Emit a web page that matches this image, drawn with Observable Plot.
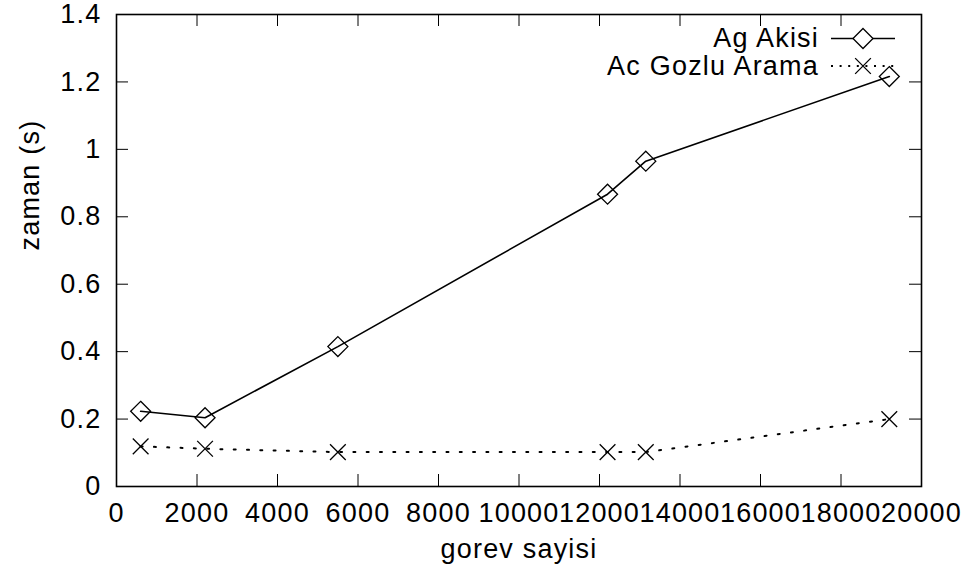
<!DOCTYPE html>
<html>
<head>
<meta charset="utf-8">
<script src="https://cdn.jsdelivr.net/npm/d3@7"></script>
<script src="https://cdn.jsdelivr.net/npm/@observablehq/plot@0.6"></script>
<style>
  html, body { margin: 0; padding: 0; background: #fff; }
</style>
</head>
<body>
<div id="chart"></div>
<script>
// Number of tasks (x) and run time in seconds (y) for both solvers
const taskCounts = [600, 2200, 5500, 12200, 13150, 19200];
const networkFlowTimes = [0.223, 0.204, 0.415, 0.867, 0.965, 1.216];
const bestFirstTimes = [0.119, 0.112, 0.102, 0.102, 0.102, 0.2];
const seriesNames = ["Ag Akisi", "Ac Gozlu Arama"];

const xTicks = [0, 2000, 4000, 6000, 8000, 10000, 12000, 14000, 16000, 18000, 20000];
const yTicks = [0, 0.2, 0.4, 0.6, 0.8, 1, 1.2, 1.4];
const xLabel = "gorev sayisi";
const yLabel = "zaman (s)";

const flowRows = taskCounts.map((x, i) => ({x, y: networkFlowTimes[i]}));
const bestRows = taskCounts.map((x, i) => ({x, y: bestFirstTimes[i]}));

const W = 975, H = 574;
const M = {top: 14, right: 54, bottom: 88, left: 116};
const frameW = W - M.left - M.right;
const frameH = H - M.top - M.bottom;
const tickLen = 12;

const diamondR = 9, timesR = 7.2;
const dotted = "2 11.3";

const series = [
  {name: seriesNames[0], symbol: d3.symbolDiamond2, r: diamondR, dash: null},
  {name: seriesNames[1], symbol: d3.symbolTimes, r: timesR, dash: "2 6.6"}
];

// Key in the upper-right corner of the frame: label, line sample and marker
function key(index, scales, values, dims) {
  const right = dims.width - dims.marginRight;
  const top = dims.marginTop;
  const g = d3.create("svg:g");
  series.forEach((s, i) => {
    const y = top + 24.5 + i * 27.5;
    g.append("text")
      .attr("x", right - 102)
      .attr("y", y)
      .attr("dy", "0.32em")
      .attr("text-anchor", "end")
      .attr("fill", "black")
      .text(s.name);
    g.append("line")
      .attr("x1", right - 90).attr("x2", right - 26)
      .attr("y1", y).attr("y2", y)
      .attr("stroke", "black")
      .attr("stroke-width", s.dash ? 2 : 1.4)
      .attr("stroke-dasharray", s.dash);
    g.append("path")
      .attr("transform", `translate(${right - 58},${y})`)
      .attr("d", d3.symbol(s.symbol, Math.PI * s.r * s.r)())
      .attr("fill", s.dash ? "none" : "white")
      .attr("stroke", "black")
      .attr("stroke-width", 1.3);
  });
  return g.node();
}

const chart = Plot.plot({
  width: W,
  height: H,
  marginTop: M.top,
  marginRight: M.right,
  marginBottom: M.bottom,
  marginLeft: M.left,
  style: "font-family: 'Liberation Sans', Arial, sans-serif; font-size: 27px; letter-spacing: 1.2px; background: #fff; color: #000;",
  x: {domain: [0, 20000]},
  y: {domain: [0, 1.4]},
  marks: [
    // inward ticks on all four sides
    Plot.tickX(xTicks, {x: d => d, insetTop: frameH - tickLen, stroke: "black", strokeWidth: 1}),
    Plot.tickX(xTicks, {x: d => d, insetBottom: frameH - tickLen, stroke: "black", strokeWidth: 1}),
    Plot.tickY(yTicks, {y: d => d, insetRight: frameW - tickLen, stroke: "black", strokeWidth: 1}),
    Plot.tickY(yTicks, {y: d => d, insetLeft: frameW - tickLen, stroke: "black", strokeWidth: 1}),
    Plot.axisX(xTicks, {tickSize: 0, tickPadding: 16.5, tickFormat: "d", label: null, fill: "black"}),
    Plot.axisY(yTicks, {tickSize: 0, tickPadding: 15, tickFormat: d => String(d), label: null, fill: "black"}),
    Plot.text([xLabel], {frameAnchor: "bottom", dy: 63, lineAnchor: "middle", fill: "black"}),
    Plot.text([yLabel], {frameAnchor: "left", dx: -86.5, rotate: -90, lineAnchor: "middle", fill: "black"}),
    // series
    Plot.line(flowRows, {x: "x", y: "y", stroke: "black", strokeWidth: 1.6}),
    Plot.line(bestRows, {x: "x", y: "y", stroke: "black", strokeWidth: 2, strokeDasharray: dotted}),
    Plot.dot(flowRows, {x: "x", y: "y", symbol: d3.symbolDiamond2, r: diamondR, fill: "none", stroke: "black", strokeWidth: 1.3}),
    Plot.dot(bestRows, {x: "x", y: "y", symbol: d3.symbolTimes, r: timesR, fill: "none", stroke: "black", strokeWidth: 1.3}),
    key,
    Plot.frame({stroke: "black", strokeWidth: 1.6})
  ]
});

document.getElementById("chart").appendChild(chart);
</script>
</body>
</html>
